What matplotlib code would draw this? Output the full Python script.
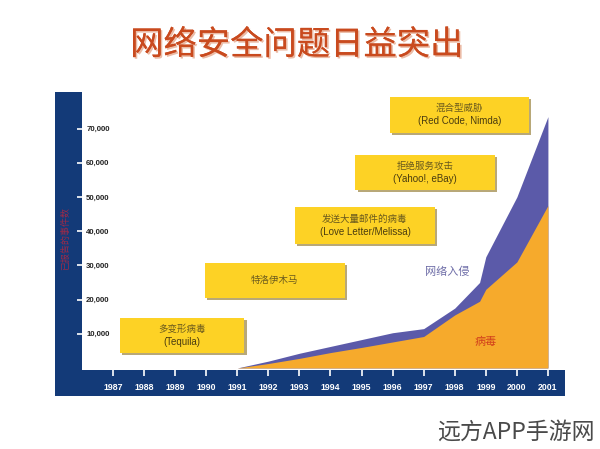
import matplotlib
matplotlib.use("Agg")
import matplotlib.pyplot as plt
from matplotlib.patches import Rectangle
import matplotlib.patheffects as pe

plt.rcParams['font.family'] = ['Noto Sans CJK SC', 'DejaVu Sans']

# ---- data ----
years = [1991, 1992, 1993, 1994, 1995, 1996, 1997, 1998, 1998.8, 1999, 2000, 2001]
virus = [0, 1300, 2800, 4500, 6000, 7600, 9200, 15500, 19500, 23000, 31000, 47500]
intrusion = [0, 700, 1500, 1800, 2300, 2700, 2300, 2000, 5500, 9500, 19000, 26000]
x_ticks = list(range(1987, 2002))
y_ticks = [10000, 20000, 30000, 40000, 50000, 60000, 70000]
y_tick_labels = ["10,000", "20,000", "30,000", "40,000", "50,000", "60,000", "70,000"]
title = "网络安全问题日益突出"
events_cn = ["多变形病毒", "特洛伊木马", "发送大量邮件的病毒", "拒绝服务攻击", "混合型威胁"]
events_en = ["(Tequila)", "", "(Love Letter/Melissa)", "(Yahoo!, eBay)", "(Red Code, Nimda)"]
series_names = ["病毒", "网络入侵"]
y_label = "已报告的事件数"
watermark = "远方APP手游网"

W, H = 600, 449
fig = plt.figure(figsize=(6, 4.49), dpi=100)
fig.patch.set_facecolor('white')

NAVY = '#133a78'
ORANGE = '#f6aa2c'
PURPLE = '#5b5aa9'
YELLOW = '#fdd225'

def fx(px):
    return px / W

def fy(py):
    return (H - py) / H

# navy frame (left strip + bottom band)
fig.patches.append(Rectangle((fx(55), fy(396)), fx(565) - fx(55), fy(92) - fy(396),
                             transform=fig.transFigure, facecolor=NAVY, edgecolor='none', zorder=0))

ax = fig.add_axes([fx(82), fy(370), fx(565) - fx(82), fy(92) - fy(370)])
ax.set_facecolor('white')
ax.set_zorder(1)
for s in ax.spines.values():
    s.set_visible(False)

ax.set_xlim(1986.0, 2001.55)
ax.set_ylim(-600, 80700)

top = [v + i for v, i in zip(virus, intrusion)]
ax.fill_between(years, 0, top, color=PURPLE, lw=0, zorder=2)
ax.fill_between(years, 0, virus, color=ORANGE, lw=0, zorder=3)

# ticks
ax.set_xticks(x_ticks)
ax.set_xticklabels([str(y) for y in x_ticks])
ax.tick_params(axis='x', direction='out', length=4, width=1.2, color='white',
               labelcolor='white', labelsize=6.3, pad=5)
for lab in ax.get_xticklabels():
    lab.set_fontweight('bold')
    lab.set_family(['Liberation Sans', 'DejaVu Sans'])

ax.set_yticks(y_ticks)
ax.set_yticklabels(y_tick_labels)
ax.tick_params(axis='y', direction='out', length=3.5, width=1.2, color='white',
               labelcolor='#222222', labelsize=5.6, pad=-6.5)
for lab in ax.get_yticklabels():
    lab.set_ha('left')
    lab.set_fontweight('bold')
    lab.set_family(['Liberation Sans', 'DejaVu Sans'])

# event boxes (positions in data coords)
box_pos = [
    (1987.23, 4400, 4.0, 10200),
    (1989.96, 20500, 4.5, 10200),
    (1992.86, 36300, 4.5, 10800),
    (1994.80, 52000, 4.5, 10300),
    (1995.90, 68700, 4.5, 10500),
]
for (bx, by, bw, bh), cn, en in zip(box_pos, events_cn, events_en):
    ax.add_patch(Rectangle((bx + 0.07, by - 650), bw, bh, facecolor='#b8a878',
                           edgecolor='none', zorder=4))
    ax.add_patch(Rectangle((bx, by), bw, bh, facecolor=YELLOW, edgecolor='none', zorder=5))
    cx, cy = bx + bw / 2, by + bh / 2
    if en:
        ax.text(cx, cy + 1900, cn, ha='center', va='center', fontsize=6.8,
                color='#6a5a1e', zorder=6)
        ax.text(cx, cy - 1800, en, ha='center', va='center', fontsize=7,
                color='#4a3c10', family=['Liberation Sans', 'DejaVu Sans'], zorder=6)
    else:
        ax.text(cx, cy, cn, ha='center', va='center', fontsize=6.8,
                color='#6a5a1e', zorder=6)

ax.text(1997.75, 28000, series_names[1], ha='center', va='center', fontsize=8,
        color='#6f6ea8', zorder=6)
ax.text(1999.0, 7600, series_names[0], ha='center', va='center', fontsize=8,
        color='#d2401c', zorder=6)

# y label in the navy strip
fig.text(fx(66), fy(238), y_label, rotation=90, ha='center', va='center',
         fontsize=6.5, color='#9c2a48')

# title with soft shadow
fig.text(fx(297), fy(45), title, ha='center', va='center', fontsize=24,
         fontweight='medium', color='#c94a1e',
         path_effects=[pe.withSimplePatchShadow(offset=(1.2, -1.2), shadow_rgbFace='#e9b49c', alpha=0.9),
                       pe.Normal()])

# watermark
fig.text(fx(516), fy(432), watermark, ha='center', va='center', fontsize=16.5,
         color='#4a4a4a')

fig.savefig('out.png', dpi=100, facecolor='white')
